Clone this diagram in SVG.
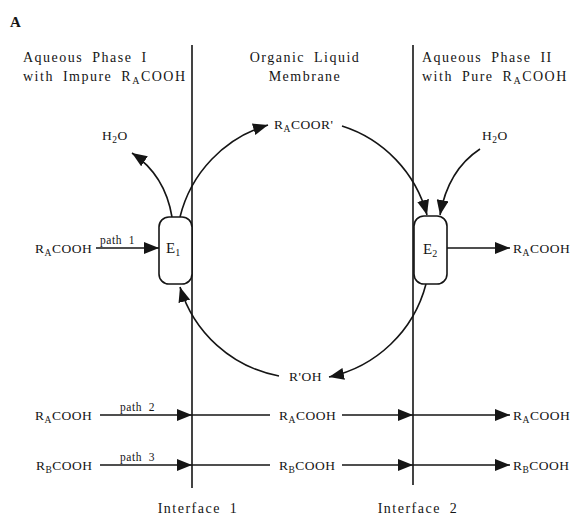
<svg xmlns="http://www.w3.org/2000/svg" width="572" height="517" viewBox="0 0 572 517">
<style>
text{font-family:"Liberation Serif","Times New Roman",serif;fill:#151515}
.hd{font-size:14px;letter-spacing:1.5px;word-spacing:4px}
.lb{font-size:13.5px;letter-spacing:0.5px}
.pt{font-size:11.5px;letter-spacing:0.6px;word-spacing:3px}
.ln{fill:none;stroke:#151515;stroke-width:1.6}
.box{fill:#fff;stroke:#151515;stroke-width:1.6}
</style>
<defs>
<marker id="ah" markerUnits="userSpaceOnUse" markerWidth="16" markerHeight="12" viewBox="0 0 16 12" refX="15" refY="6" orient="auto">
<path d="M0,0 L15,6 L0,12 z" fill="#151515"/>
</marker>
</defs>
<text x="10" y="27" style="font-size:15px;font-weight:bold">A</text>
<g id="headers">
<text class="hd" x="23" y="62">Aqueous Phase I</text>
<text class="hd" x="23" y="81">with Impure R<tspan font-size="10" dy="3">A</tspan><tspan dy="-3">COOH</tspan></text>
<text class="hd" x="305" y="62" text-anchor="middle">Organic Liquid</text>
<text class="hd" x="305" y="81" text-anchor="middle">Membrane</text>
<text class="hd" x="422" y="62">Aqueous Phase II</text>
<text class="hd" x="422" y="81">with Pure R<tspan font-size="10" dy="3">A</tspan><tspan dy="-3">COOH</tspan></text>
<text class="hd" x="198" y="513" text-anchor="middle">Interface 1</text>
<text class="hd" x="418" y="513" text-anchor="middle">Interface 2</text>
</g>
<g id="interfaces">
<line class="ln" x1="192" y1="45" x2="192" y2="488"/>
<line class="ln" x1="413" y1="45" x2="413" y2="485"/>
</g>
<g id="connectors">
<path class="ln" d="M96,248 L159,248" marker-end="url(#ah)"/>
<path class="ln" d="M172,217 Q165,175 132,153" marker-end="url(#ah)"/>
<path class="ln" d="M180,217 A128,128 0 0 1 268,125" marker-end="url(#ah)"/>
<path class="ln" d="M342,126 A128,128 0 0 1 427,215" marker-end="url(#ah)"/>
<path class="ln" d="M480,149 Q448,170 440,215" marker-end="url(#ah)"/>
<path class="ln" d="M447,248 L510,248" marker-end="url(#ah)"/>
<path class="ln" d="M426,284 A128,128 0 0 1 329,377" marker-end="url(#ah)"/>
<path class="ln" d="M279,376 A128,128 0 0 1 180,287" marker-end="url(#ah)"/>
<path class="ln" d="M100,415 L192,415" marker-end="url(#ah)"/>
<path class="ln" d="M192,415 L270,415"/>
<path class="ln" d="M342,415 L413,415" marker-end="url(#ah)"/>
<path class="ln" d="M413,415 L510,415" marker-end="url(#ah)"/>
<path class="ln" d="M100,465 L192,465" marker-end="url(#ah)"/>
<path class="ln" d="M192,465 L270,465"/>
<path class="ln" d="M342,465 L413,465" marker-end="url(#ah)"/>
<path class="ln" d="M413,465 L510,465" marker-end="url(#ah)"/>
</g>
<g id="E1">
<rect class="box" x="159" y="217" width="33" height="67" rx="10"/>
<text x="166" y="253" style="font-size:15px">E<tspan font-size="10" dy="3">1</tspan></text>
</g>
<g id="E2">
<rect class="box" x="414" y="216" width="33" height="68" rx="10"/>
<text x="423" y="254" style="font-size:15px">E<tspan font-size="10" dy="3">2</tspan></text>
</g>
<g id="labels">
<text class="lb" x="35" y="253">R<tspan font-size="9.5" dy="3">A</tspan><tspan dy="-3">COOH</tspan></text>
<text class="pt" x="100" y="244">path 1</text>
<text class="lb" x="102" y="140">H<tspan font-size="9.5" dy="3">2</tspan><tspan dy="-3">O</tspan></text>
<text class="lb" x="274" y="129">R<tspan font-size="9.5" dy="3">A</tspan><tspan dy="-3">COOR'</tspan></text>
<text class="lb" x="482" y="140">H<tspan font-size="9.5" dy="3">2</tspan><tspan dy="-3">O</tspan></text>
<text class="lb" x="513" y="253">R<tspan font-size="9.5" dy="3">A</tspan><tspan dy="-3">COOH</tspan></text>
<text class="lb" x="289" y="381">R'OH</text>
<text class="lb" x="35" y="420">R<tspan font-size="9.5" dy="3">A</tspan><tspan dy="-3">COOH</tspan></text>
<text class="pt" x="120" y="411">path 2</text>
<text class="lb" x="279" y="420">R<tspan font-size="9.5" dy="3">A</tspan><tspan dy="-3">COOH</tspan></text>
<text class="lb" x="513" y="420">R<tspan font-size="9.5" dy="3">A</tspan><tspan dy="-3">COOH</tspan></text>
<text class="lb" x="36" y="470">R<tspan font-size="9.5" dy="3">B</tspan><tspan dy="-3">COOH</tspan></text>
<text class="pt" x="120" y="461">path 3</text>
<text class="lb" x="279" y="470">R<tspan font-size="9.5" dy="3">B</tspan><tspan dy="-3">COOH</tspan></text>
<text class="lb" x="513" y="470">R<tspan font-size="9.5" dy="3">B</tspan><tspan dy="-3">COOH</tspan></text>
</g>
</svg>
